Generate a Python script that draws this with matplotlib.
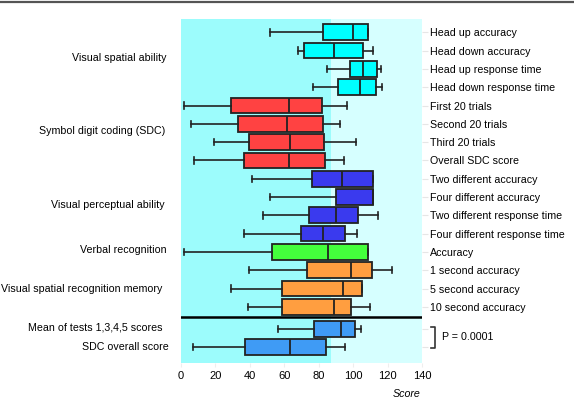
import matplotlib
matplotlib.use("Agg")
import matplotlib.pyplot as plt
from matplotlib.lines import Line2D

# ---- data ----
row_labels = ["Head up accuracy", "Head down accuracy", "Head up response time",
              "Head down response time", "First 20 trials", "Second 20 trials",
              "Third 20 trials", "Overall SDC score", "Two different accuracy",
              "Four different accuracy", "Two different response time",
              "Four different response time", "Accuracy", "1 second accuracy",
              "5 second accuracy", "10 second accuracy", "", ""]
whis_lo = [51.5, 67.8, 84.8, 76.9, 1.7, 6.0, 19.0, 7.7, 41.0, 51.7, 47.6, 36.4, 1.7, 39.5, 29.0, 39.1, 56.2, 6.8]
q1 =      [82.7, 71.3, 98.0, 91.2, 28.9, 33.1, 39.7, 36.6, 75.9, 90.2, 74.2, 69.9, 52.7, 73.4, 58.9, 58.9, 77.1, 37.2]
median =  [99.9, 88.7, 105.7, 104.0, 62.7, 61.4, 63.3, 62.9, 93.5, 111.3, 89.9, 82.7, 85.4, 98.9, 94.1, 88.7, 92.8, 63.5]
q3 =      [108.8, 105.7, 113.7, 113.1, 82.1, 82.5, 83.1, 83.8, 111.3, 111.3, 102.6, 95.3, 108.4, 111.0, 105.3, 98.8, 101.1, 84.4]
whis_hi = [108.8, 111.5, 116.2, 117.0, 96.4, 92.4, 101.7, 94.7, 111.3, 111.3, 114.4, 102.4, 108.4, 122.8, 105.3, 109.8, 104.8, 95.1]
groups = ["cyan"] * 4 + ["red"] * 4 + ["blue"] * 4 + ["green"] + ["orange"] * 3 + ["lightblue"] * 2
group_labels = ["Visual spatial ability", "Symbol digit coding (SDC)", "Visual perceptual ability",
                "Verbal recognition", "Visual spatial recognition memory",
                "Mean of tests 1,3,4,5 scores", "SDC overall score"]
x_ticks = [0, 20, 40, 60, 80, 100, 120, 140]
normal_limit = 87
p_text = "P = 0.0001"

# ---- style ----
colors = {"cyan": "#00ffff", "red": "#ff4242", "blue": "#3a3aee", "green": "#44ff3c",
          "orange": "#ff9e40", "lightblue": "#3f9bf5"}
positions = list(range(16)) + [16.2, 17.2]

plt.rcParams['font.family'] = ['Liberation Sans', 'DejaVu Sans']
FS = 7.7

fig = plt.figure(figsize=(5.74, 4.0), dpi=100)
W, H = 574, 400
ax = fig.add_axes([181 / W, 1 - 363 / H, 241 / W, 344 / H])

ax.axvspan(0, normal_limit, color="#9cfcfc", zorder=0, lw=0)
ax.axvspan(normal_limit, 140, color="#d6ffff", zorder=0, lw=0)

stats = []
for i in range(len(positions)):
    stats.append(dict(med=median[i], q1=q1[i], q3=q3[i], whislo=whis_lo[i], whishi=whis_hi[i], fliers=[]))

bp = ax.bxp(stats, positions=positions, vert=False, widths=0.86, patch_artist=True,
            showfliers=False, capwidths=0.35,
            boxprops=dict(edgecolor="#222222", linewidth=1.3),
            medianprops=dict(color="#222222", linewidth=1.3),
            whiskerprops=dict(color="#222222", linewidth=1.2),
            capprops=dict(color="#222222", linewidth=1.2))
for patch, g in zip(bp["boxes"], groups):
    patch.set_facecolor(colors[g])

ax.axhline(15.55, color="black", lw=1.8, zorder=5)

ax.set_xlim(0, 140)
ax.set_ylim(18.07, -0.727)
ax.set_xticks(x_ticks)
ax.set_xticklabels([str(t) for t in x_ticks], fontsize=FS + 0.3)
ax.yaxis.tick_right()
ax.set_yticks(positions)
ax.set_yticklabels(row_labels, fontsize=FS)
ax.tick_params(axis="y", which="both", direction="out", length=4, color="#e6e6e6", pad=2)
ax.tick_params(axis="x", which="both", direction="out", length=3, color="#eeeeee", pad=3)
for s in ax.spines.values():
    s.set_visible(False)

ax.text(139, 19.75, "Score", fontsize=FS, style="italic", ha="right", va="center")

def fx(px):
    return px / W

def fy(py):
    return 1 - py / H

group_pos = [(167, 58), (165, 131), (165, 205), (167, 250), (162, 289), (162, 327), (169, 347)]
for lab, (px, py) in zip(group_labels, group_pos):
    fig.text(fx(px), fy(py), lab, fontsize=FS, ha="right", va="center")

# bracket for P value
fig.add_artist(Line2D([fx(430.5), fx(435), fx(435), fx(430.5)],
                      [fy(327), fy(327), fy(348), fy(348)], color="#333333", lw=1.2))
fig.text(fx(441.5), fy(337.5), p_text, fontsize=FS, ha="left", va="center")

# top rule
fig.add_artist(Line2D([0, 1], [fy(2), fy(2)], color="#555555", lw=1.6))

fig.savefig("out.png", dpi=100)
